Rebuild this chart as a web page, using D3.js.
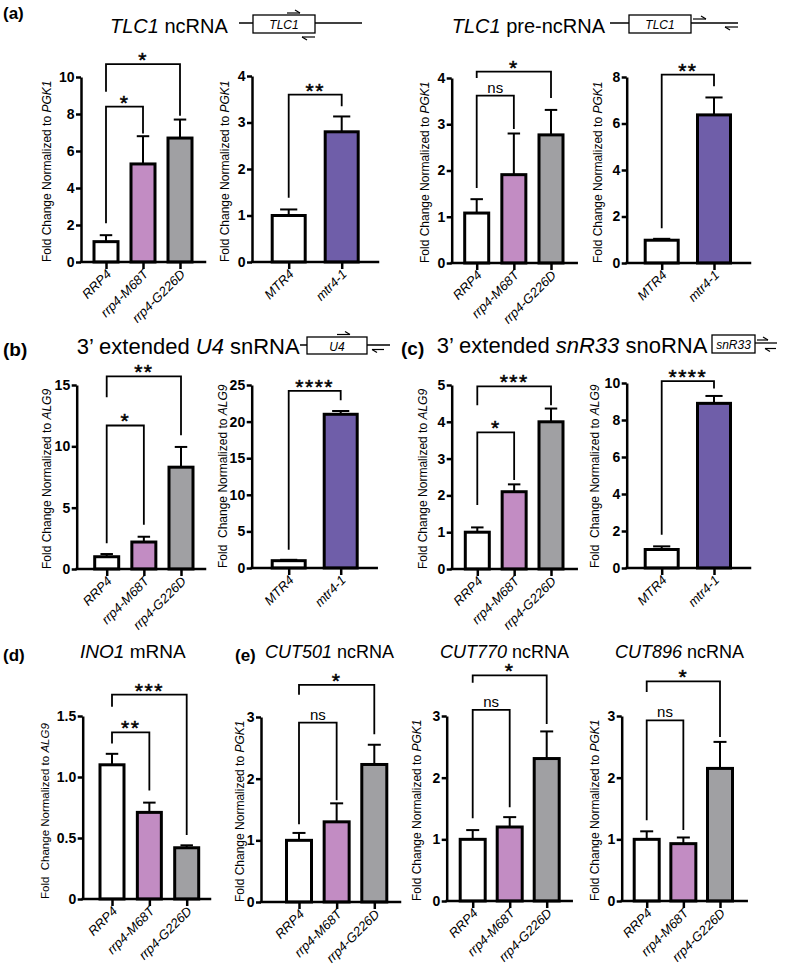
<!DOCTYPE html>
<html><head><meta charset="utf-8">
<script src="https://cdn.jsdelivr.net/npm/d3@7"></script>
<style>
body{margin:0;background:#fff}
svg text{font-family:"Liberation Sans",Arial,Helvetica,sans-serif;fill:#000}
</style></head><body>
<svg id="fig" width="797" height="976" xmlns="http://www.w3.org/2000/svg"></svg>
<script>
// ---------------- DATA ----------------
const rrpGroups = ["RRP4", "rrp4-M68T", "rrp4-G226D"];
const mtrGroups = ["MTR4", "mtr4-1"];

// (a) TLC1 ncRNA
const tlc1RrpMean = [1.1, 5.3, 6.7];
const tlc1RrpSem  = [0.35, 1.5, 1.0];
const tlc1RrpTicks = [0, 2, 4, 6, 8, 10];
const tlc1RrpSig = [{a:0,b:1,h:8.4,l:2.1,r:6.95,t:"*"},{a:0,b:2,h:10.7,l:9.2,r:7.9,t:"*"}];
const tlc1MtrMean = [1.0, 2.8];
const tlc1MtrSem  = [0.13, 0.33];
const tlc1MtrTicks = [0, 1, 2, 3, 4];
const tlc1MtrSig = [{a:0,b:1,h:3.6,l:1.38,r:3.35,t:"**"}];
// (a) TLC1 pre-ncRNA
const preRrpMean = [1.08, 1.91, 2.77];
const preRrpSem  = [0.3, 0.89, 0.54];
const preRrpTicks = [0, 1, 2, 3, 4];
const preRrpSig = [{a:0,b:1,h:3.62,l:1.62,r:2.9,t:"ns"},{a:0,b:2,h:4.14,l:4.0,r:3.57,t:"*"}];
const preMtrMean = [0.98, 6.37];
const preMtrSem  = [0.06, 0.75];
const preMtrTicks = [0, 2, 4, 6, 8];
const preMtrSig = [{a:0,b:1,h:8.1,l:1.49,r:7.6,t:"**"}];
// (b) 3' extended U4 snRNA
const u4RrpMean = [1.0, 2.2, 8.3];
const u4RrpSem  = [0.22, 0.43, 1.65];
const u4RrpTicks = [0, 5, 10, 15];
const u4RrpSig = [{a:0,b:1,h:11.7,l:2.1,r:3.6,t:"*"},{a:0,b:2,h:15.7,l:14.0,r:10.9,t:"**"}];
const u4MtrMean = [1.0, 21.0];
const u4MtrSem  = [0.12, 0.45];
const u4MtrTicks = [0, 5, 10, 15, 20, 25];
const u4MtrSig = [{a:0,b:1,h:24.2,l:2.5,r:22.9,t:"****"}];
// (c) 3' extended snR33 snoRNA
const snrRrpMean = [1.0, 2.1, 4.0];
const snrRrpSem  = [0.13, 0.2, 0.36];
const snrRrpTicks = [0, 1, 2, 3, 4, 5];
const snrRrpSig = [{a:0,b:1,h:3.71,l:1.74,r:2.42,t:"*"},{a:0,b:2,h:4.96,l:4.45,r:4.45,t:"***"}];
const snrMtrMean = [1.0, 8.9];
const snrMtrSem  = [0.17, 0.4];
const snrMtrTicks = [0, 2, 4, 6, 8, 10];
const snrMtrSig = [{a:0,b:1,h:10.1,l:1.8,r:9.7,t:"****"}];
// (d) INO1 mRNA
const inoMean = [1.1, 0.71, 0.42];
const inoSem  = [0.09, 0.08, 0.02];
const inoTicks = [0, 0.5, 1.0, 1.5];
const inoSig = [{a:0,b:1,h:1.365,l:1.275,r:0.89,t:"**"},{a:0,b:2,h:1.676,l:1.575,r:0.525,t:"***"}];
// (e) CUT ncRNAs
const cut501Mean = [1.0, 1.3, 2.23];
const cut501Sem  = [0.12, 0.3, 0.32];
const cut501Sig = [{a:0,b:1,h:2.91,l:1.26,r:1.65,t:"ns"},{a:0,b:2,h:3.52,l:3.36,r:2.72,t:"*"}];
const cut770Mean = [1.0, 1.2, 2.31];
const cut770Sem  = [0.15, 0.16, 0.44];
const cut770Sig = [{a:0,b:1,h:3.1,l:1.34,r:1.52,t:"ns"},{a:0,b:2,h:3.66,l:3.54,r:2.87,t:"*"}];
const cut896Mean = [1.0, 0.93, 2.15];
const cut896Sem  = [0.13, 0.1, 0.43];
const cut896Sig = [{a:0,b:1,h:2.93,l:1.31,r:1.15,t:"ns"},{a:0,b:2,h:3.56,l:3.39,r:2.66,t:"*"}];
const cutTicks = [0, 1, 2, 3];

// ---------------- STYLE ----------------
const fillOf = {"RRP4":"#ffffff","rrp4-M68T":"#c28cc3","rrp4-G226D":"#a0a0a3","MTR4":"#ffffff","mtr4-1":"#6f5ea9"};
const FONT = '"Liberation Sans",Arial,Helvetica,sans-serif';

const svg = d3.select("#fig");

// ---------------- PANELS (layout) ----------------
const panels = [
 {groups:rrpGroups, mean:tlc1RrpMean, sem:tlc1RrpSem, ticks:tlc1RrpTicks, sig:tlc1RrpSig, ax:81,    y0:262, yT:77,  c0:106,   c1:180,   xEnd:205,   bw:24, lx:47,  ls:12,   lab:"Fold Change Normalized to ", ref:"PGK1"},
 {groups:mtrGroups, mean:tlc1MtrMean, sem:tlc1MtrSem, ticks:tlc1MtrTicks, sig:tlc1MtrSig, ax:252,   y0:262, yT:76,  c0:288.7, c1:341.7, xEnd:378,   bw:33, lx:225, ls:12,   lab:"Fold Change Normalized to ", ref:"PGK1"},
 {groups:rrpGroups, mean:preRrpMean,  sem:preRrpSem,  ticks:preRrpTicks,  sig:preRrpSig,  ax:451.7, y0:263, yT:78,  c0:476.7, c1:551,   xEnd:576.7, bw:24, lx:425, ls:12,   lab:"Fold Change Normalized to ", ref:"PGK1"},
 {groups:mtrGroups, mean:preMtrMean,  sem:preMtrSem,  ticks:preMtrTicks,  sig:preMtrSig,  ax:626.7, y0:263, yT:77,  c0:661.7, c1:714,   xEnd:750,   bw:33, lx:598, ls:12,   lab:"Fold Change Normalized to ", ref:"PGK1"},
 {groups:rrpGroups, mean:u4RrpMean,   sem:u4RrpSem,   ticks:u4RrpTicks,   sig:u4RrpSig,   ax:76.7,  y0:569, yT:385, c0:106.7, c1:181,   xEnd:205,   bw:24, lx:46.7,ls:12,   lab:"Fold Change Normalized to ", ref:"ALG9"},
 {groups:mtrGroups, mean:u4MtrMean,   sem:u4MtrSem,   ticks:u4MtrTicks,   sig:u4MtrSig,   ax:251.7, y0:568, yT:385, c0:288.7, c1:340.7, xEnd:376.7, bw:33, lx:223, ls:12,   lab:"Fold  Change Normalized to ", ref:"ALG9"},
 {groups:rrpGroups, mean:snrRrpMean,  sem:snrRrpSem,  ticks:snrRrpTicks,  sig:snrRrpSig,  ax:451.7, y0:569, yT:385, c0:477.3, c1:551,   xEnd:576.7, bw:24, lx:423, ls:12,   lab:"Fold Change Normalized to ", ref:"ALG9"},
 {groups:mtrGroups, mean:snrMtrMean,  sem:snrMtrSem,  ticks:snrMtrTicks,  sig:snrMtrSig,  ax:626.7, y0:568, yT:383, c0:661.7, c1:714,   xEnd:750,   bw:33, lx:595, ls:12,   lab:"Fold  Change Normalized to ", ref:"ALG9"},
 {groups:rrpGroups, mean:inoMean,     sem:inoSem,     ticks:inoTicks,     sig:inoSig,     ax:82.7,  y0:899, yT:716, c0:112,   c1:186.7, xEnd:210,   bw:24, lx:45,  ls:11.5, lab:"Fold  Change Normalized to ", ref:"ALG9", dec:true},
 {groups:rrpGroups, mean:cut501Mean,  sem:cut501Sem,  ticks:cutTicks,     sig:cut501Sig,  ax:261,   y0:902, yT:717, c0:299,   c1:374.3, xEnd:400,   bw:25, lx:239.5,ls:12,  lab:"Fold Change Normalized to ", ref:"PGK1"},
 {groups:rrpGroups, mean:cut770Mean,  sem:cut770Sem,  ticks:cutTicks,     sig:cut770Sig,  ax:446.7, y0:901, yT:716, c0:472.7, c1:546.7, xEnd:571.7, bw:25, lx:416.7,ls:12,  lab:"Fold Change Normalized to ", ref:"PGK1"},
 {groups:rrpGroups, mean:cut896Mean,  sem:cut896Sem,  ticks:cutTicks,     sig:cut896Sig,  ax:621.7, y0:901, yT:716, c0:646.7, c1:720,   xEnd:746.7, bw:25, lx:595, ls:12,   lab:"Fold Change Normalized to ", ref:"PGK1"}
];

panels.forEach(p => {
  const g = svg.append("g");
  const yMax = p.ticks[p.ticks.length-1];
  const y = d3.scaleLinear().domain([0, yMax]).range([p.y0, p.yT]);
  const x = d3.scalePoint().domain(p.groups).range([p.c0, p.c1]);
  const rows = p.groups.map((k,i)=>({k, m:p.mean[i], s:p.sem[i]}));

  // error bars (upper only)
  const eb = g.append("g").attr("stroke","#000").attr("stroke-width",2);
  rows.forEach(d => {
    const cx = x(d.k), yt = y(d.m + d.s);
    eb.append("line").attr("x1",cx).attr("x2",cx).attr("y1",y(d.m)).attr("y2",yt);
    eb.append("line").attr("x1",cx-p.bw*0.26).attr("x2",cx+p.bw*0.26).attr("y1",yt).attr("y2",yt);
  });
  // bars
  g.append("g").selectAll("rect").data(rows).join("rect")
    .attr("x", d => x(d.k) - p.bw/2)
    .attr("y", d => y(d.m))
    .attr("width", p.bw)
    .attr("height", d => p.y0 - y(d.m))
    .attr("fill", d => fillOf[d.k])
    .attr("stroke","#000").attr("stroke-width",3);

  // y axis
  const fmt = p.dec ? (v => v===0 ? "0" : d3.format(".1f")(v)) : d3.format("d");
  const ya = g.append("g").attr("transform",`translate(${p.ax},0)`)
    .call(d3.axisLeft(y).tickValues(p.ticks).tickFormat(fmt).tickSize(5).tickSizeOuter(0).tickPadding(1.5));
  ya.select(".domain").attr("stroke-width",2.5).attr("stroke","#000");
  ya.selectAll(".tick line").attr("stroke-width",2.5).attr("stroke","#000");
  ya.selectAll(".tick text").attr("font-family",FONT).attr("font-size",14).attr("font-weight","bold").attr("fill","#000");

  // x axis
  const xa = g.append("g").attr("transform",`translate(0,${p.y0})`)
    .call(d3.axisBottom(x).tickSize(7).tickSizeOuter(0).tickFormat(""));
  xa.select(".domain").remove();
  xa.selectAll(".tick line").attr("stroke-width",2.5).attr("stroke","#000");
  g.append("line").attr("x1",p.ax).attr("x2",p.xEnd).attr("y1",p.y0).attr("y2",p.y0)
    .attr("stroke","#000").attr("stroke-width",2.5).attr("stroke-linecap","square");

  // x labels
  g.append("g").selectAll("text").data(p.groups).join("text")
    .attr("transform", k => `translate(${x(k)+6},${p.y0+13}) rotate(-45)`)
    .attr("text-anchor","end").attr("font-size",13).attr("font-style","italic")
    .attr("font-family",FONT).text(k => k);

  // y label
  const yl = g.append("text")
    .attr("transform",`translate(${p.lx+4},${p.y0}) rotate(-90)`)
    .attr("text-anchor","start").attr("font-size",p.ls).attr("font-family",FONT)
    .style("white-space","pre");
  yl.append("tspan").text(p.lab);
  yl.append("tspan").attr("font-style","italic").text(p.ref);

  // significance brackets
  p.sig.forEach(s => {
    const xa_ = x(p.groups[s.a]), xb_ = x(p.groups[s.b]);
    g.append("path")
      .attr("d", `M${xa_},${y(s.l)}V${y(s.h)}H${xb_}V${y(s.r)}`)
      .attr("fill","none").attr("stroke","#000").attr("stroke-width",1.8);
    const isNs = s.t === "ns";
    g.append("text").attr("x",(xa_+xb_)/2).attr("y", isNs ? y(s.h)-3 : y(s.h)+3)
      .attr("text-anchor","middle").attr("font-family",FONT)
      .attr("font-size", isNs ? 15 : 21)
      .attr("letter-spacing", isNs ? 0 : 1.5)
      .attr("stroke", isNs ? "none" : "#000").attr("stroke-width", 0.5)
      .text(s.t);
  });
});

// ---------------- TITLES & GENE DIAGRAMS ----------------
function title(x, yb, size, parts, bold) {
  const t = svg.append("text").attr("x",x).attr("y",yb).attr("font-size",size).attr("font-family",FONT)
    .style("white-space","pre");
  if (bold) t.attr("font-weight","bold");
  parts.forEach(pt => {
    const s = t.append("tspan").text(pt.t);
    if (pt.i) s.attr("font-style","italic");
  });
}
function ln(x1,y1,x2,y2,w){ svg.append("line").attr("x1",x1).attr("y1",y1).attr("x2",x2).attr("y2",y2).attr("stroke","#000").attr("stroke-width",w||1.3); }
function box(x1,y1,x2,y2,label,cx,yb){
  svg.append("rect").attr("x",x1).attr("y",y1).attr("width",x2-x1).attr("height",y2-y1)
    .attr("fill","#fff").attr("stroke","#000").attr("stroke-width",1.3);
  svg.append("text").attr("x",cx).attr("y",yb).attr("text-anchor","middle").attr("font-size",12)
    .attr("font-style","italic").attr("font-family",FONT).text(label);
}
function fwd(x1,x2,yy){ ln(x1,yy,x2,yy,1.2); ln(x2,yy,x2-5,yy-3,1.2); }
function rev(x1,x2,yy){ ln(x1,yy,x2,yy,1.2); ln(x1,yy,x1+5,yy+3,1.2); }

// (a)
title(3, 19, 17, [{t:"(a)"}], true);
title(110, 33, 20, [{t:"TLC1",i:true},{t:" ncRNA"}]);
ln(239,23,362,23); box(253,15,315,33,"TLC1",284,28.5); fwd(287,300,13); rev(302,315,37);
title(451.7, 33, 20, [{t:"TLC1",i:true},{t:" pre-ncRNA"}]);
ln(610,23,738,23); box(629,15,691,33,"TLC1",660,28.5); fwd(693,706,19); rev(725,738,27);
// (b)
title(3, 356, 19, [{t:"(b)"}], true);
title(76.7, 354, 22, [{t:"3’ extended "},{t:"U4",i:true},{t:" snRNA"}]);
ln(300,345,390,345); box(307,337,367,354,"U4",337,350.5); fwd(337,350,334.5); rev(372,384,349.5);
// (c)
title(401, 355, 19, [{t:"(c)"}], true);
title(436.7, 353, 22, [{t:"3’ extended "},{t:"snR33",i:true},{t:" snoRNA"}]);
ln(755,343,777,343); box(712,335,755,353,"snR33",733.5,348.5); fwd(757,768,340); rev(765,776,348.5);
// (d)
title(3, 661, 17, [{t:"(d)"}], true);
title(80, 658, 19, [{t:"INO1",i:true},{t:" mRNA"}]);
// (e)
title(235, 661, 17, [{t:"(e)"}], true);
title(265, 658, 18, [{t:"CUT501",i:true},{t:" ncRNA"}]);
title(440, 658, 18, [{t:"CUT770",i:true},{t:" ncRNA"}]);
title(615, 658, 18, [{t:"CUT896",i:true},{t:" ncRNA"}]);
</script>
</body></html>
